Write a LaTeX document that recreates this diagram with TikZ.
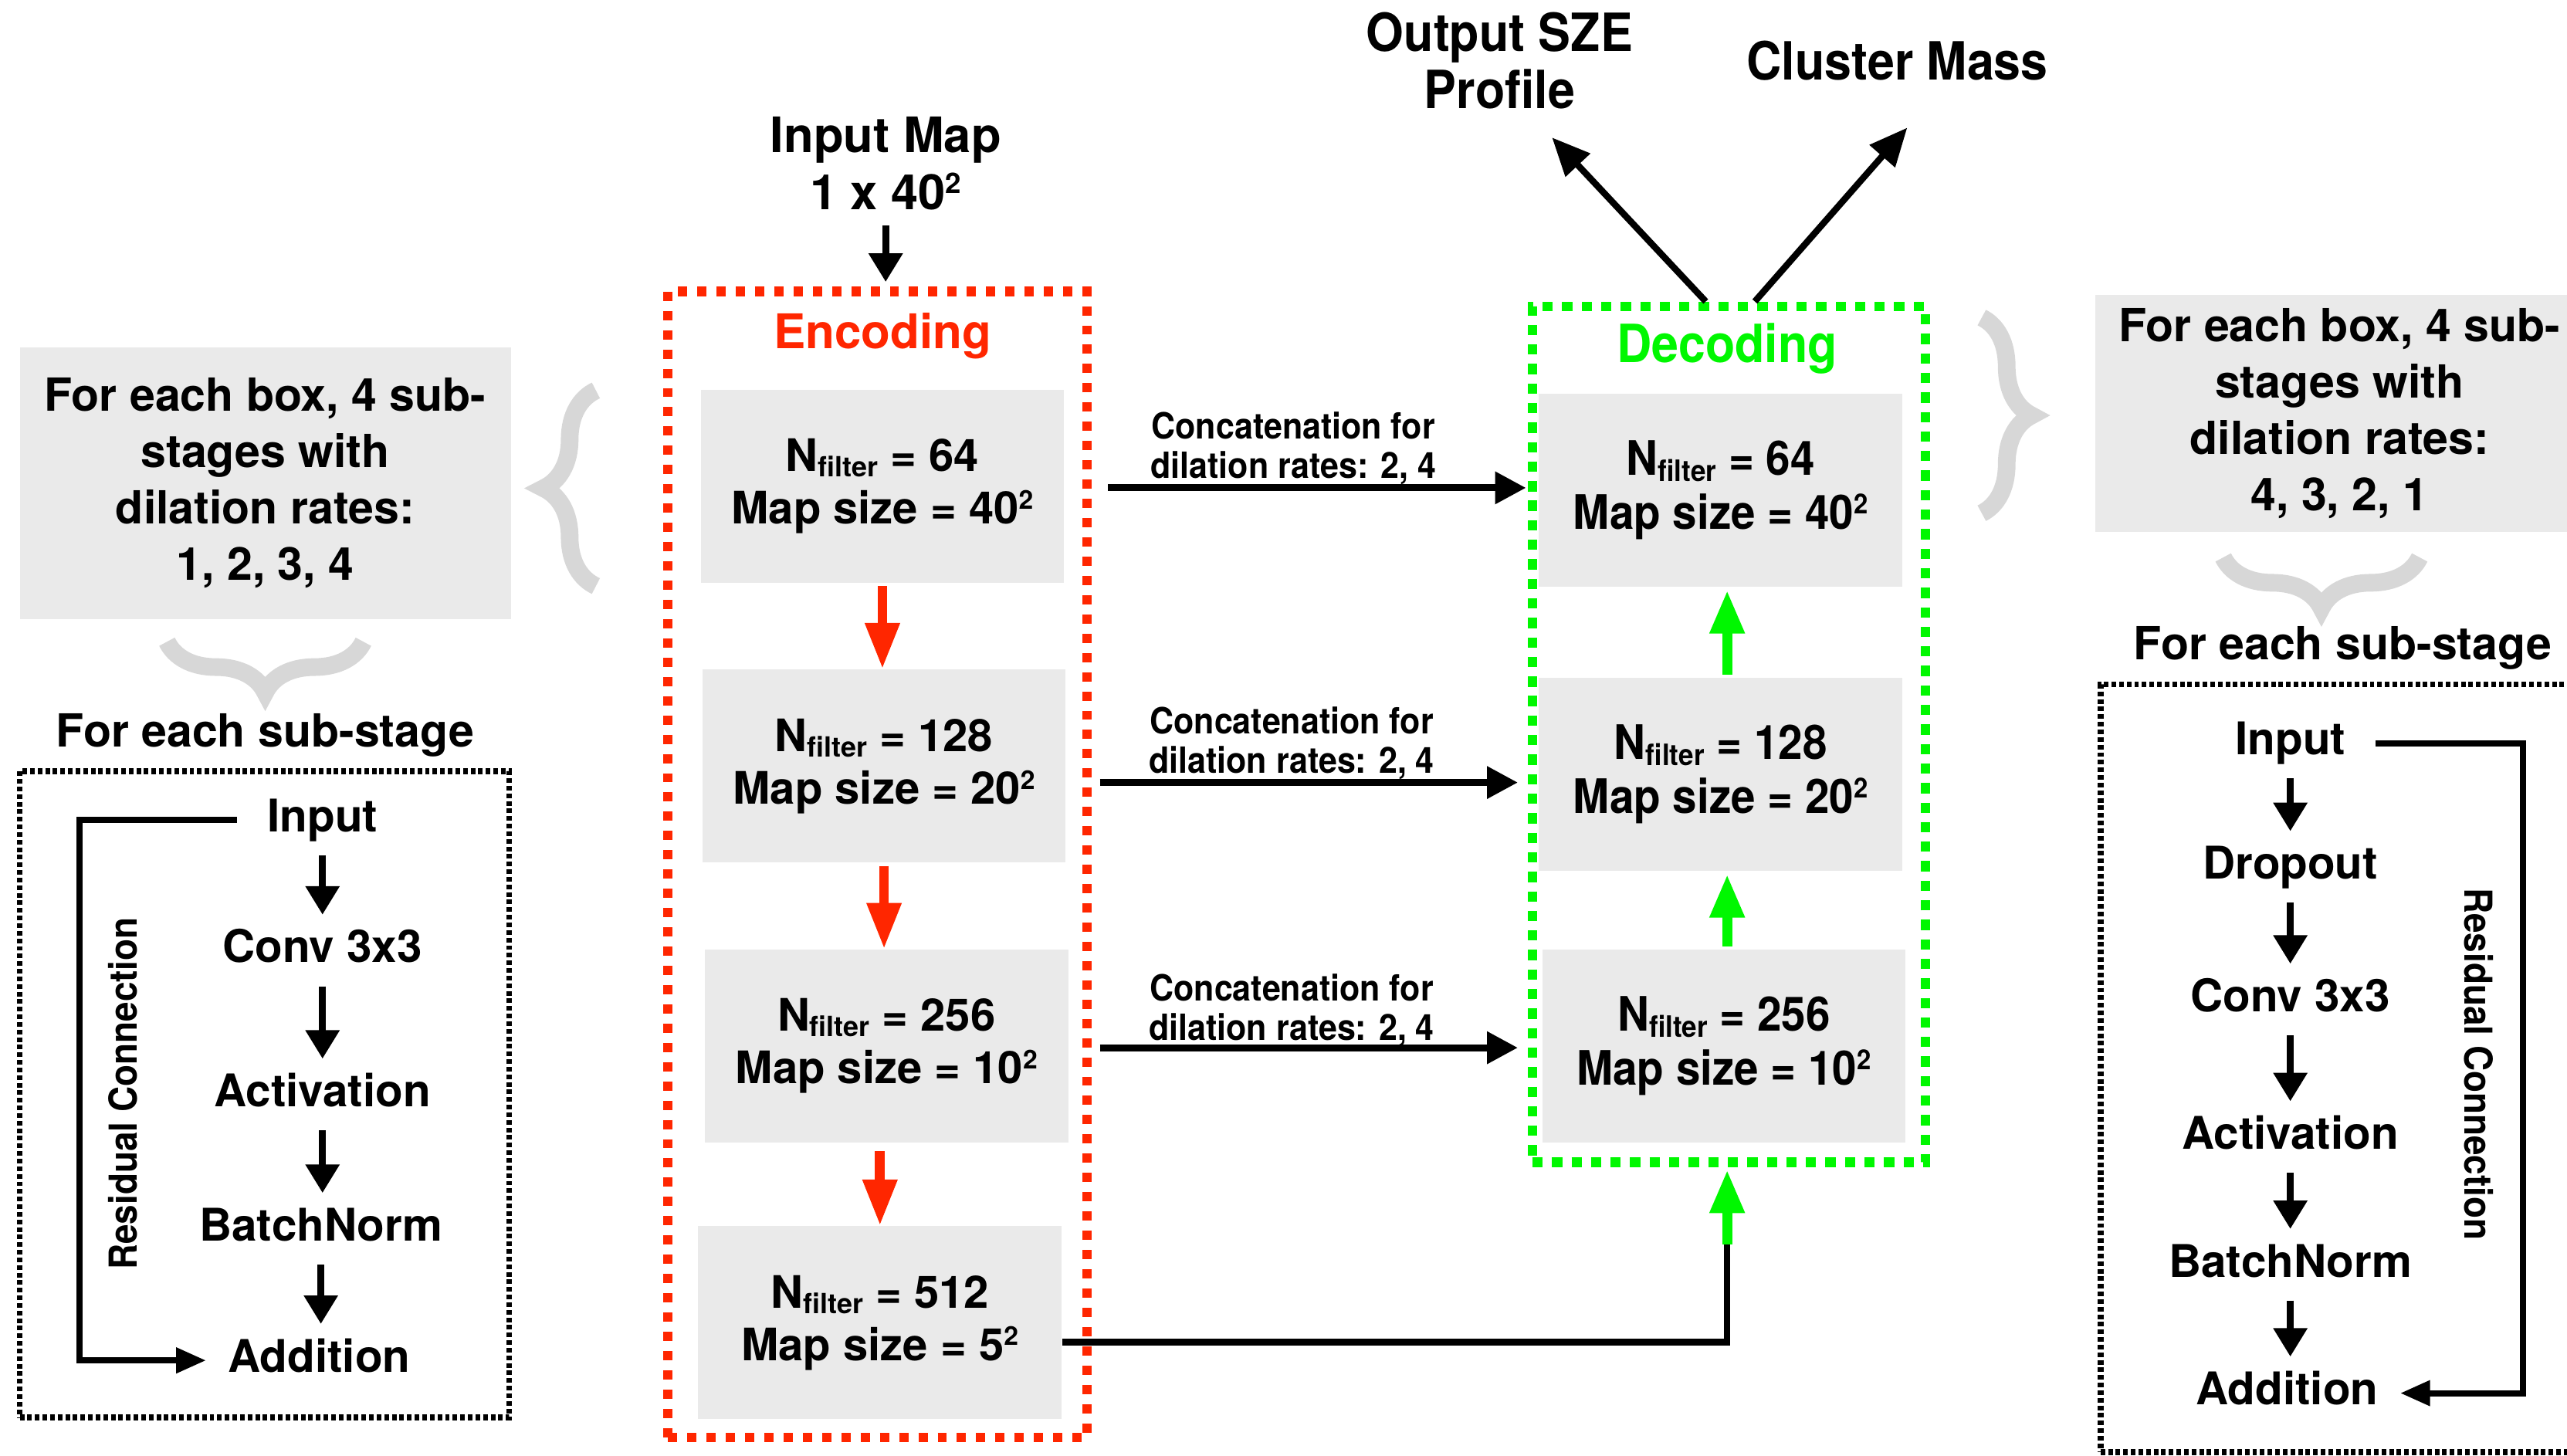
\documentclass[tikz,border=0pt]{standalone}
\usepackage{fontspec}
\setmainfont{TeX Gyre Heros}
\usepackage{graphicx}
\usetikzlibrary{arrows.meta,decorations.pathreplacing}

\definecolor{boxgray}{HTML}{EAEAEA}
\definecolor{bracegray}{HTML}{D7D7D7}
\definecolor{encred}{HTML}{FF2600}
\definecolor{decgreen}{HTML}{00F700}

\newcommand{\fsz}[2]{\fontsize{#1}{#2}\selectfont\bfseries}
\newcommand{\cnd}[1]{\scalebox{0.92}[1]{#1}}
\newcommand{\nf}{N\raisebox{-0.12em}{\scalebox{0.62}{filter}}}
\newcommand{\sq}{\raisebox{0.33em}{\scalebox{0.58}{2}}}

\begin{document}
\begin{tikzpicture}[
  x=0.021205cm, y=-0.021205cm,
  stagebox/.style={fill=boxgray, minimum width=4.7075cm, minimum height=2.502cm,
    inner sep=0pt, align=center, font=\fsz{16.5}{19.3}},
  dstagebox/.style={stagebox, font=\fsz{17.5}{19.9}},
  notebox/.style={fill=boxgray, inner sep=0pt, align=center, font=\fsz{16.8}{20.8}},
  sublbl/.style={inner sep=0pt, font=\fsz{16.8}{20}},
  headlbl/.style={inner sep=0pt, align=center, font=\fsz{18}{21}},
  enclbl/.style={inner sep=0pt, text=encred, font=\fsz{17.6}{21}},
  declbl/.style={inner sep=0pt, text=decgreen, font=\fsz{19.4}{24}},
  outlbl/.style={inner sep=0pt, align=center, font=\fsz{19.4}{21}},
  concatlbl/.style={inner sep=0pt, align=center, font=\fsz{13.3}{14.5}},
  residlbl/.style={inner sep=0pt, font=\fsz{14.2}{18}},
  flowtxt/.style={inner sep=0pt, text height=12pt, text depth=3.5pt, font=\fsz{16.6}{20}},
  encframe/.style={draw=encred, line width=3.5pt, dash pattern=on 3.4pt off 3.7pt, inner sep=0pt},
  decframe/.style={draw=decgreen, line width=3.5pt, dash pattern=on 3.8pt off 3.4pt, inner sep=0pt},
  subframe/.style={draw=black, line width=2.2pt, dash pattern=on 1.7pt off 1.1pt, inner sep=0pt},
  flowarrow/.style={line width=2.5pt, -{Triangle[length=10.5pt,width=12pt]},
    shorten <=5pt, shorten >=5.5pt},
  concatarrow/.style={line width=2.6pt, -{Triangle[length=11.4pt,width=11.4pt]}},
  encarrow/.style={encred, line width=3.6pt, -{Triangle[length=17pt,width=12pt]}},
  decarrow/.style={decgreen, line width=3.8pt, -{Triangle[length=16pt,width=12pt]}},
  outarrow/.style={line width=2.4pt, -{Triangle[length=14pt,width=12pt]}},
  linkline/.style={line width=2.4pt},
  residline/.style={line width=2.3pt, -{Triangle[length=11pt,width=9pt]}},
  bracestroke/.style={draw=bracegray, line width=6.5pt, decorate},
]
\useasboundingbox (0,0) rectangle (1568,889);

% ---------------- encoder column ----------------
\node[headlbl] (inmap) at (541,100) {Input Map\\1 x 40\sq};
\node[encframe, minimum width=5.4285cm, minimum height=14.8435cm] (enc) at (536,528) {};
\node[enclbl] (enct) at (539,205) {Encoding};
\node[stagebox] (e1) at (539,297) {\nf{} = 64\\Map size = 40\sq};
\node[stagebox] (e2) at (540,468) {\nf{} = 128\\Map size = 20\sq};
\node[stagebox] (e3) at (541.5,639) {\nf{} = 256\\Map size = 10\sq};
\node[stagebox] (e4) at (537.5,808) {\nf{} = 512\\Map size = 5\sq};

\draw[line width=2.5pt, -{Triangle[length=10.5pt,width=12pt]}, shorten <=5.4pt, shorten >=1.8pt]
  (inmap.south) -- (inmap.south |- enc.north);
\draw[encarrow, shorten <=1pt] (e1.south) -- (e1.south |- e2.north);
\draw[encarrow, shorten <=1pt] (e2.south) -- (e2.south |- e3.north);
\draw[encarrow, shorten <=3pt] (e4.north |- e3.south) -- (e4.north);

% ---------------- decoder column ----------------
\node[decframe, minimum width=5.089cm, minimum height=11.09cm] (dec) at (1056,448.5) {};
\node[declbl] (dect) at (1055,213) {\cnd{Decoding}};
\node[dstagebox] (d1) at (1051,299.5) {\cnd{\nf{} = 64}\\\cnd{Map size = 40\sq}};
\node[dstagebox] (d2) at (1051,473) {\cnd{\nf{} = 128}\\\cnd{Map size = 20\sq}};
\node[dstagebox] (d3) at (1053,639) {\cnd{\nf{} = 256}\\\cnd{Map size = 10\sq}};

\path (d2.north) ++(4,0) coordinate (u2a);
\path (d3.north) ++(2,0) coordinate (u3a);
\draw[decarrow, shorten <=1pt, shorten >=1pt] (u2a) -- (u2a |- d1.south);
\draw[decarrow, shorten <=1pt, shorten >=1pt] (u3a) -- (u3a |- d2.south);

\coordinate (bend) at (1055,760);
\draw[linkline] ([yshift=-7.2pt]e4.east) -| (bend);
\draw[decarrow, shorten >=1pt] (bend) -- (bend |- dec.south);

% skip connections
\path (enc.east |- e1.east) ++(10,1) coordinate (c1a);
\path (enc.east |- e2.east) ++(5,10) coordinate (c2a);
\path (enc.east |- e3.east) ++(5,1) coordinate (c3a);
\draw[concatarrow, shorten >=0.6pt] (c1a) -- (dec.west |- c1a);
\draw[concatarrow, shorten >=3.6pt] (c2a) -- (dec.west |- c2a);
\draw[concatarrow, shorten >=3.6pt] (c3a) -- (dec.west |- c3a);
\node[concatlbl] (l1) at (790,274) {\cnd{Concatenation for}\\\cnd{dilation rates: 2, 4}};
\node[concatlbl] (l2) at (789,454) {\cnd{Concatenation for}\\\cnd{dilation rates: 2, 4}};
\node[concatlbl] (l3) at (789,617) {\cnd{Concatenation for}\\\cnd{dilation rates: 2, 4}};

% outputs
\node[outlbl] (sze) at (916,37) {\cnd{Output SZE}\\\cnd{Profile}};
\node[outlbl] (mass) at (1159,37) {\cnd{Cluster Mass}};
\coordinate (szetip) at (948,84);
\coordinate (masstip) at (1165,78);
\draw[outarrow] ([xshift=-8.5pt]dec.north) -- (szetip);
\draw[outarrow] ([xshift=9.6pt]dec.north) -- (masstip);

% ---------------- left panel: encoder sub-stage ----------------
\node[notebox, minimum width=6.3615cm, minimum height=3.52cm] (lnote) at (162,295)
  {For each box, 4 sub-\\stages with\\dilation rates:\\1, 2, 3, 4};
\draw[bracestroke, decoration={brace, amplitude=0.68cm}] (364,358) -- (364,238.5);
\draw[bracestroke, decoration={brace, amplitude=0.657cm}] (222,392) -- (102,392);
\node[sublbl] (lsub) at (162,449) {For each sub-stage};
\node[subframe, minimum width=6.34cm, minimum height=8.376cm] (lframe) at (161.5,668.5) {};

\node[flowtxt] (li) at (197,501) {Input};
\node[flowtxt] (lc) at (197,581) {Conv 3x3};
\node[flowtxt] (la) at (197,669) {Activation};
\node[flowtxt] (lb) at (196,751) {BatchNorm};
\node[flowtxt] (ld) at (195,831) {Addition};
\draw[flowarrow] (li.south) -- (li.south |- lc.north);
\draw[flowarrow] (lc.south) -- (lc.south |- la.north);
\draw[flowarrow] (la.south) -- (la.south |- lb.north);
\draw[flowarrow] (lb.south) -- (lb.south |- ld.north);
\draw[residline] ([xshift=-11pt]li.west) -- ++(-96,0) |- ([xshift=-8pt]ld.west);
\node[residlbl, rotate=90] (lres) at (75,668) {\cnd{Residual Connection}};

% ---------------- right panel: decoder sub-stage ----------------
\node[notebox, minimum width=6.319cm, minimum height=3.075cm] (rnote) at (1429,252.5)
  {For each box, 4 sub-\\stages with\\dilation rates:\\4, 3, 2, 1};
\draw[bracestroke, decoration={brace, amplitude=0.647cm}] (1210.5,194) -- (1210.5,313.5);
\draw[bracestroke, decoration={brace, amplitude=0.657cm}] (1478,340.5) -- (1358,340.5);
\node[sublbl] (rsub) at (1431,396) {For each sub-stage};
\node[subframe, minimum width=6.298cm, minimum height=9.945cm] (rframe) at (1431.5,652.5) {};

\node[flowtxt] (ri) at (1399,454) {Input};
\node[flowtxt] (rp) at (1399,530) {Dropout};
\node[flowtxt] (rc) at (1399,611) {Conv 3x3};
\node[flowtxt] (ra) at (1399,695) {Activation};
\node[flowtxt] (rb) at (1399,773) {BatchNorm};
\node[flowtxt] (rd) at (1397,851) {Addition};
\draw[flowarrow] (ri.south) -- (ri.south |- rp.north);
\draw[flowarrow] (rp.south) -- (rp.south |- rc.north);
\draw[flowarrow] (rc.south) -- (rc.south |- ra.north);
\draw[flowarrow] (ra.south) -- (ra.south |- rb.north);
\draw[flowarrow] (rb.south) -- (rb.south |- rd.north);
\draw[residline] ([xshift=11pt]ri.east) -- ++(90,0) |- ([xshift=8pt]rd.east);
\node[residlbl, rotate=-90] (rres) at (1514,650) {\cnd{Residual Connection}};
\end{tikzpicture}
\end{document}
